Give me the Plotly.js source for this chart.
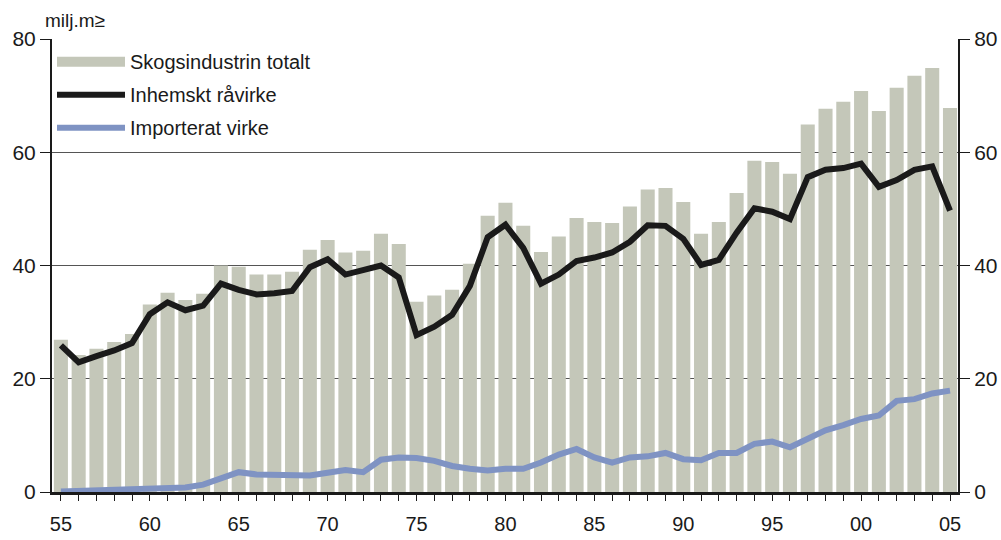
<!DOCTYPE html>
<html><head><meta charset="utf-8">
<script src="https://cdn.plot.ly/plotly-3.0.1.min.js"></script>
<style>html,body{margin:0;padding:0;background:#fff}#chart{width:1001px;height:540px}</style>
</head><body><div id="chart"></div>
<script>
var years = [];
for (var y = 1955; y <= 2005; y++) years.push(y);
var totalt = [26.9,24.2,25.3,26.5,27.9,33.1,35.2,33.9,35.0,40.0,
  39.8,38.4,38.4,38.9,42.8,44.5,42.3,42.6,45.6,43.8,
  33.6,34.7,35.7,40.3,48.8,51.1,47.0,42.4,45.1,48.4,
  47.7,47.5,50.4,53.4,53.7,51.2,45.6,47.7,52.8,58.5,
  58.3,56.2,64.9,67.7,68.9,70.8,67.3,71.4,73.5,74.9,67.8];
var inhemskt = [25.9,22.9,24.0,25.0,26.3,31.4,33.5,32.1,32.9,36.8,
  35.7,34.9,35.1,35.5,39.7,41.1,38.4,39.2,40.0,37.9,
  27.7,29.2,31.3,36.4,45.0,47.2,43.1,36.8,38.4,40.8,
  41.4,42.3,44.2,47.1,47.0,44.7,40.1,41.0,45.8,50.1,
  49.5,48.2,55.6,56.9,57.2,58.0,53.9,55.1,56.9,57.5,49.7];
var importerat = [0.1,0.2,0.3,0.3,0.3,0.4,0.6,0.8,1.3,2.5,
  3.5,3.1,3.1,3.1,2.9,3.4,3.9,3.5,5.7,6.1,
  6.0,5.5,4.6,4.1,3.8,4.1,4.1,5.2,6.6,7.6,
  6.1,5.2,6.1,6.3,6.9,5.8,5.6,6.9,6.9,8.5,
  8.9,7.9,9.5,10.9,11.8,12.9,13.5,16.1,16.4,17.4,17.9];
var yTicks = [0,20,40,60,80];
var xTickText = years.map(function(v){ return v % 5 === 0 ? String(v).slice(2) : ''; });

var font = 'Liberation Sans, Arial, sans-serif';
var barColor = '#c4c7b9';
var traces = [
  {type:'bar', x:years, y:totalt, name:'Skogsindustrin totalt', showlegend:false,
   marker:{color:barColor}, hoverinfo:'skip'},
  {type:'scatter', mode:'lines', x:[null], y:[null], name:'Skogsindustrin totalt', legendgroup:'a',
   line:{color:barColor, width:15}, hoverinfo:'skip'},
  {type:'scatter', mode:'lines', x:years, y:inhemskt, name:'Inhemskt råvirke', legendgroup:'b',
   line:{color:'#1a1a1a', width:6}},
  {type:'scatter', mode:'lines', x:years, y:importerat, name:'Importerat virke', legendgroup:'c',
   line:{color:'#7f93c3', width:6}},
  {type:'scatter', mode:'lines', x:[years[0]], y:[0], yaxis:'y2', showlegend:false, hoverinfo:'skip', line:{color:'rgba(0,0,0,0)'}}
];
var layout = {
  width:1001, height:540,
  margin:{l:52, r:43, t:39, b:48},
  paper_bgcolor:'#fff', plot_bgcolor:'#fff',
  font:{family:font, size:20, color:'#1a1a1a'},
  bargap:0.21,
  showlegend:true,
  legend:{x:0.0, y:0.993, xanchor:'left', yanchor:'top', bgcolor:'rgba(0,0,0,0)',
    font:{family:font, size:20, color:'#1a1a1a'}, traceorder:'grouped', tracegroupgap:4, itemwidth:68},
  xaxis:{range:[1954.5,2005.45], tickvals:years, ticktext:xTickText,
    ticks:'outside', ticklen:6, tickcolor:'#1a1a1a', tickwidth:1,
    showline:true, linecolor:'#1a1a1a', linewidth:3, showgrid:false, zeroline:false,
    tickfont:{family:font, size:20, color:'#1a1a1a'}, ticklabelstandoff:6},
  yaxis:{range:[0,80], tickvals:yTicks, ticks:'outside', ticklen:10, tickcolor:'#1a1a1a',
    showline:true, linecolor:'#1a1a1a', linewidth:2, showgrid:true, gridcolor:'#555', gridwidth:1,
    zeroline:false, tickfont:{family:font, size:21, color:'#1a1a1a'}},
  yaxis2:{range:[0,80], tickvals:yTicks, overlaying:'y', side:'right', ticks:'outside', ticklen:10,
    tickcolor:'#1a1a1a', showline:true, linecolor:'#1a1a1a', linewidth:2, showgrid:false, zeroline:false,
    tickfont:{family:font, size:21, color:'#1a1a1a'}},
  annotations:[{text:'milj.m≥', xref:'paper', yref:'paper', x:-0.01, y:1.0, yshift:6,
    xanchor:'left', yanchor:'bottom', showarrow:false, font:{family:font, size:19, color:'#1a1a1a'}}]
};
Plotly.newPlot('chart', traces, layout, {displayModeBar:false, staticPlot:true});
</script></body></html>
